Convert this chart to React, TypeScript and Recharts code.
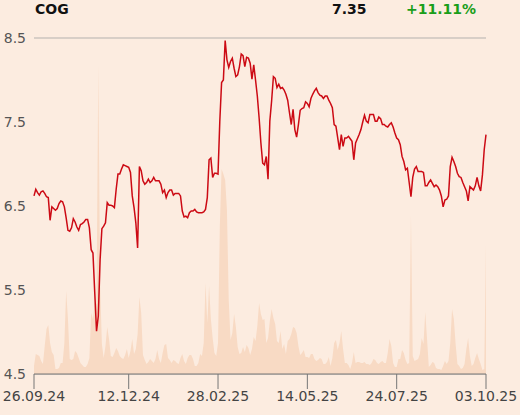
import { ComposedChart, Line, Area, XAxis, YAxis, CartesianGrid } from 'recharts'

// daily close, 26.09.24 .. 03.10.25
const price = [
  6.62, 6.70, 6.66, 6.63, 6.67, 6.68, 6.65, 6.61, 6.60, 6.33, 6.49, 6.47, 6.45, 6.47, 6.53, 6.56, 6.55, 6.49, 6.36, 6.21,
  6.20, 6.24, 6.35, 6.31, 6.25, 6.21, 6.28, 6.29, 6.31, 6.34, 6.34, 6.24, 5.98, 5.94, 5.47, 5.01, 5.19, 5.86, 6.23, 6.26,
  6.30, 6.54, 6.51, 6.51, 6.50, 6.48, 6.70, 6.88, 6.88, 6.94, 6.99, 6.98, 6.97, 6.96, 6.90, 6.62, 6.48, 6.30, 6.00, 6.97,
  6.92, 6.80, 6.76, 6.78, 6.82, 6.78, 6.80, 6.84, 6.80, 6.80, 6.80, 6.76, 6.66, 6.69, 6.60, 6.66, 6.69, 6.69, 6.63, 6.65,
  6.65, 6.65, 6.62, 6.44, 6.37, 6.38, 6.36, 6.42, 6.44, 6.44, 6.46, 6.43, 6.42, 6.42, 6.42, 6.43, 6.46, 6.60, 7.05, 7.07,
  6.84, 6.89, 6.89, 6.88, 7.51, 7.97, 8.00, 8.47, 8.24, 8.15, 8.22, 8.26, 8.14, 8.04, 8.06, 8.16, 8.31, 8.29, 8.16, 8.27,
  8.26, 8.20, 8.01, 8.18, 8.00, 7.81, 7.55, 7.25, 7.01, 6.99, 7.09, 6.82, 7.51, 7.75, 8.04, 8.02, 7.91, 7.95, 7.90, 7.91,
  7.88, 7.83, 7.76, 7.61, 7.47, 7.65, 7.41, 7.32, 7.47, 7.64, 7.66, 7.67, 7.74, 7.72, 7.68, 7.78, 7.83, 7.87, 7.90, 7.85,
  7.82, 7.81, 7.78, 7.81, 7.81, 7.76, 7.72, 7.67, 7.47, 7.45, 7.31, 7.17, 7.35, 7.21, 7.31, 7.31, 7.33, 7.30, 7.27, 7.05,
  7.25, 7.30, 7.35, 7.41, 7.50, 7.58, 7.51, 7.49, 7.59, 7.59, 7.59, 7.51, 7.51, 7.56, 7.54, 7.47, 7.47, 7.45, 7.44, 7.47,
  7.49, 7.44, 7.37, 7.31, 7.29, 7.23, 7.09, 7.03, 6.93, 6.95, 6.78, 6.61, 6.84, 6.94, 6.97, 6.91, 6.91, 6.91, 6.90, 6.74,
  6.74, 6.78, 6.81, 6.77, 6.73, 6.75, 6.73, 6.69, 6.62, 6.49, 6.57, 6.58, 6.62, 6.97, 7.08, 7.03, 6.97, 6.89, 6.85, 6.84,
  6.78, 6.73, 6.68, 6.56, 6.73, 6.71, 6.69, 6.74, 6.84, 6.74, 6.68, 6.87, 7.17, 7.35,
]

// traded volume, same days
const volume = [
  8, 20, 19, 18, 13, 10, 28, 45, 49, 31, 22, 19, 5, 5, 6, 11, 11, 31, 83, 55,
  15, 14, 15, 23, 21, 16, 11, 9, 7, 7, 10, 16, 61, 55, 71, 70, 309, 90, 30, 16,
  28, 47, 35, 18, 17, 21, 26, 23, 18, 16, 15, 19, 25, 16, 23, 35, 20, 25, 40, 77,
  61, 19, 14, 10, 12, 15, 13, 11, 15, 24, 15, 11, 21, 29, 30, 16, 14, 11, 14, 13,
  11, 10, 16, 20, 13, 10, 16, 19, 19, 15, 8, 8, 11, 20, 18, 31, 91, 51, 88, 55,
  36, 21, 18, 31, 147, 205, 200, 194, 164, 74, 34, 41, 60, 47, 27, 20, 21, 27, 22, 29,
  26, 19, 25, 37, 33, 48, 71, 60, 54, 55, 31, 36, 53, 65, 56, 50, 33, 31, 43, 25,
  30, 20, 33, 35, 40, 47, 46, 41, 28, 19, 21, 24, 17, 17, 16, 20, 20, 15, 13, 14,
  16, 15, 10, 10, 12, 17, 8, 16, 31, 34, 24, 31, 43, 25, 11, 11, 9, 5, 11, 22,
  11, 12, 12, 11, 11, 12, 10, 10, 9, 11, 15, 14, 11, 10, 12, 13, 11, 11, 21, 35,
  28, 11, 7, 7, 15, 15, 24, 21, 14, 10, 11, 159, 18, 13, 14, 15, 20, 36, 30, 62,
  35, 7, 9, 12, 11, 6, 5, 5, 4, 8, 13, 10, 13, 31, 65, 55, 30, 10, 8, 5,
  6, 10, 25, 36, 18, 8, 10, 16, 21, 15, 10, 4, 5, 129,
]

const tickDays = [0, 53, 103, 153, 203, 253]
const tickLabels = ['26.09.24', '12.12.24', '28.02.25', '14.05.25', '24.07.25', '03.10.25']
const priceTicks = [4.5, 5.5, 6.5, 7.5, 8.5]

const data = price.map((p, i) => ({ day: i, price: p, volume: volume[i] }))

export default function App() {
  return (
    <div style={{ position: 'absolute', top: 0, left: 0, width: 520, height: 415, background: '#fcece0', fontFamily: '"DejaVu Sans", sans-serif' }}>
      <div style={{ position: 'absolute', top: 1, left: 35, fontSize: 14, fontWeight: 'bold', color: '#111' }}>COG</div>
      <div style={{ position: 'absolute', top: 1, left: 332, fontSize: 14, fontWeight: 'bold', color: '#111' }}>7.35</div>
      <div style={{ position: 'absolute', top: 1, left: 406, fontSize: 14, fontWeight: 'bold', color: '#1a9e1a' }}>+11.11%</div>
      <ComposedChart width={520} height={415} data={data} margin={{ top: 38, right: 34, left: 0, bottom: 11 }}>
        <CartesianGrid horizontal vertical={false} stroke="#b4b1ae" />
        <XAxis
          dataKey="day"
          type="number"
          domain={[0, 253]}
          ticks={tickDays}
          interval={0}
          tickFormatter={(v) => tickLabels[tickDays.indexOf(v)]}
          tickSize={15}
          stroke="#777"
          tick={{ fill: '#444', fontSize: 14 }}
        />
        <YAxis
          yAxisId="price"
          domain={[4.5, 8.5]}
          ticks={priceTicks}
          width={34}
          axisLine={false}
          tickLine={false}
          tick={{ fill: '#555', fontSize: 14 }}
        />
        <YAxis yAxisId="vol" orientation="right" domain={[0, 336]} hide />
        <Area
          yAxisId="vol"
          type="linear"
          dataKey="volume"
          stroke="none"
          fill="#f8dac4"
          fillOpacity={1}
          isAnimationActive={false}
        />
        <Line
          yAxisId="price"
          type="linear"
          dataKey="price"
          stroke="#cc0a14"
          strokeWidth={1.5}
          dot={false}
          isAnimationActive={false}
        />
      </ComposedChart>
    </div>
  )
}
